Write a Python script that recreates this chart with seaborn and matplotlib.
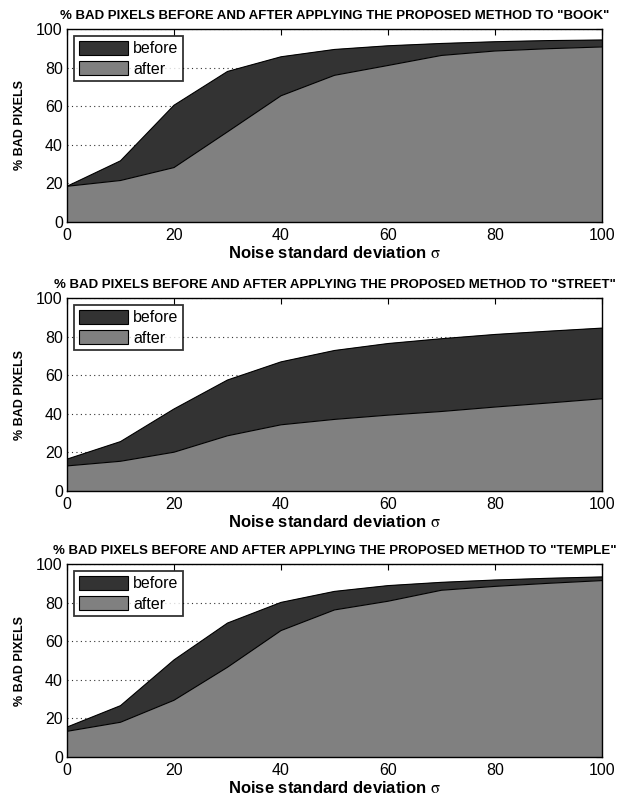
import matplotlib
matplotlib.use("Agg")
import matplotlib.pyplot as plt
import seaborn as sns
import pandas as pd
from matplotlib.patches import Patch

# noise levels (sigma) and % bad pixels
sigma = [0, 10, 20, 30, 40, 50, 60, 70, 80, 90, 100]

book_before = [18.5, 31.7, 60.5, 78.0, 85.6, 89.4, 91.3, 92.5, 93.4, 94.0, 94.3]
book_after = [18.5, 21.5, 28.2, 46.7, 65.4, 76.0, 81.1, 86.3, 88.6, 89.8, 90.7]

street_before = [16.5, 25.6, 42.5, 57.5, 66.9, 72.8, 76.4, 78.9, 81.1, 82.8, 84.4]
street_after = [13.0, 15.4, 20.1, 28.6, 34.3, 37.1, 39.3, 41.2, 43.5, 45.6, 47.8]

temple_before = [15.5, 26.6, 50.3, 69.4, 80.1, 85.8, 88.8, 90.5, 91.7, 92.6, 93.3]
temple_after = [13.3, 18.0, 29.4, 46.5, 65.5, 76.2, 80.7, 86.4, 88.4, 90.0, 91.4]

scenes = ["BOOK", "STREET", "TEMPLE"]
before_series = [book_before, street_before, temple_before]
after_series = [book_after, street_after, temple_after]

sns.set_theme(style="white")
plt.rcParams["font.family"] = ["Liberation Sans", "DejaVu Sans"]
plt.rcParams["mathtext.fontset"] = "stix"
plt.rcParams.update({"text.color": "black", "axes.labelcolor": "black",
                     "xtick.color": "black", "ytick.color": "black"})

dark = "#333333"
light = "#808080"

W, H = 617, 801
fig = plt.figure(figsize=(W / 100, H / 100), dpi=100)
fig.patch.set_facecolor("white")

# axes boxes in pixels: (left, top, right, bottom)
boxes = [(67, 29, 602, 222), (67, 298, 602, 491), (67, 564, 602, 757)]

for scene, before, after, (l, t, r, b) in zip(scenes, before_series, after_series, boxes):
    ax = fig.add_axes([l / W, 1 - b / H, (r - l) / W, (b - t) / H])
    df = pd.DataFrame({"sigma": sigma, "before": before, "after": after})

    ax.fill_between(df["sigma"], 0, df["before"], color=dark, zorder=2)
    ax.fill_between(df["sigma"], 0, df["after"], color=light, zorder=3)
    sns.lineplot(data=df, x="sigma", y="before", color="black", lw=0.8, ax=ax, zorder=4)
    sns.lineplot(data=df, x="sigma", y="after", color="black", lw=0.8, ax=ax, zorder=4)

    ax.set_xlim(0, 100)
    ax.set_ylim(0, 100)
    ax.set_xticks([0, 20, 40, 60, 80, 100])
    ax.set_yticks([0, 20, 40, 60, 80, 100])
    ax.yaxis.grid(True, linestyle=(0, (1, 3)), color="#333333", lw=0.8, zorder=1)
    ax.set_axisbelow(True)
    ax.tick_params(direction="in", top=True, right=True, length=4, width=0.8,
                   labelsize=11.5, color="black", labelcolor="black")
    ax.tick_params(axis="x", pad=4)
    ax.tick_params(axis="y", pad=3)
    for s in ax.spines.values():
        s.set_color("black")
        s.set_linewidth(1.0)
        s.set_zorder(5)

    ax.set_title(f'% BAD PIXELS BEFORE AND AFTER APPLYING THE PROPOSED METHOD TO "{scene}"',
                 fontsize=9.5, fontweight="bold", pad=7, color="black")
    ax.set_xlabel(r"Noise standard deviation $\mathrm{\sigma}$", fontsize=12,
                  fontweight="bold", labelpad=2, color="black")
    ax.set_ylabel("% BAD PIXELS", fontsize=9, fontweight="bold", labelpad=7, color="black")

    handles = [Patch(facecolor=dark, edgecolor="black", lw=0.8, label="before"),
               Patch(facecolor=light, edgecolor="black", lw=0.8, label="after")]
    leg = ax.legend(handles=handles, loc="upper left", fontsize=11.5, frameon=True,
                    fancybox=False, handlelength=3.1, handleheight=0.95,
                    handletextpad=0.3, borderpad=0.3, labelspacing=0.3,
                    borderaxespad=0.45, labelcolor="black")
    leg.get_frame().set_edgecolor("black")
    leg.get_frame().set_linewidth(1.3)
    leg.set_zorder(6)

fig.savefig("out.png", dpi=100, facecolor="white")
